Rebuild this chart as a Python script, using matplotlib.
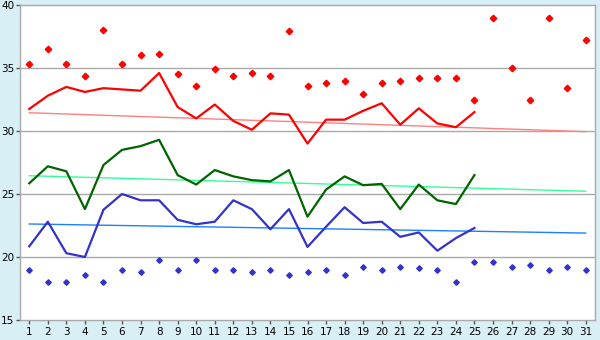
import matplotlib
matplotlib.use("Agg")
import matplotlib.pyplot as plt
import numpy as np

days = list(range(1, 32))
obs_days = list(range(1, 26))

max_points = [35.3, 36.5, 35.3, 34.4, 38.0, 35.3, 36.0, 36.1, 34.5, 33.6,
              34.9, 34.4, 34.6, 34.4, 37.9, 33.6, 33.8, 34.0, 32.9, 33.8,
              34.0, 34.2, 34.2, 34.2, 32.5, 39.0, 35.0, 32.5, 39.0, 33.4, 37.2]
min_points = [19.0, 18.0, 18.0, 18.6, 18.0, 19.0, 18.8, 19.8, 19.0, 19.8,
              19.0, 19.0, 18.8, 19.0, 18.6, 18.8, 19.0, 18.6, 19.2, 19.0,
              19.2, 19.1, 19.0, 18.0, 19.6, 19.6, 19.2, 19.4, 19.0, 19.2, 19.0]

max_line = [31.75, 32.8, 33.5, 33.1, 33.4, 33.3, 33.2, 34.6, 31.9, 31.0,
            32.1, 30.8, 30.1, 31.4, 31.3, 29.0, 30.9, 30.9, 31.6, 32.2,
            30.5, 31.8, 30.6, 30.3, 31.5]
avg_line = [25.85, 27.2, 26.8, 23.8, 27.3, 28.5, 28.8, 29.3, 26.5, 25.75,
            26.9, 26.4, 26.1, 26.0, 26.9, 23.2, 25.35, 26.4, 25.7, 25.8,
            23.8, 25.75, 24.5, 24.2, 26.5]
min_line = [20.85, 22.8, 20.3, 20.0, 23.75, 25.0, 24.5, 24.5, 22.95, 22.6,
            22.8, 24.5, 23.8, 22.2, 23.8, 20.8, 22.4, 23.95, 22.7, 22.8,
            21.6, 21.95, 20.5, 21.5, 22.3]

trend_days = [1, 31]
max_trend = [31.45, 29.95]
avg_trend = [26.45, 25.22]
min_trend = [22.62, 21.9]

bg = "#d9eff6"
grid_c = "#a9a9a9"

fig = plt.figure(figsize=(6, 3.4), dpi=100, facecolor=bg)
ax = fig.add_axes([20/600, 20/340, 575/600, 315/340])
ax.set_facecolor("white")

for yv in [20, 25, 30, 35]:
    ax.axhline(yv, color=grid_c, lw=1.0, zorder=0)

ax.plot(trend_days, max_trend, color="#ff8080", lw=1.0, zorder=1)
ax.plot(trend_days, avg_trend, color="#33ff99", lw=1.0, zorder=1)
ax.plot(trend_days, min_trend, color="#1a80ff", lw=1.0, zorder=1)

ax.plot(obs_days, max_line, color="#ff0000", lw=1.6, zorder=3)
ax.plot(obs_days, avg_line, color="#006400", lw=1.6, zorder=3)
ax.plot(obs_days, min_line, color="#3333cc", lw=1.6, zorder=3)

ax.plot(days, max_points, ls="none", marker="D", ms=3.3, color="#ff0000", zorder=4)
ax.plot(days, min_points, ls="none", marker="D", ms=2.8, color="#3333cc", zorder=4)

ax.set_xlim(0.5, 31.5)
ax.set_ylim(15, 40)
ax.set_xticks(days)
ax.set_xticklabels([str(d) for d in days])
ax.set_yticks([15, 20, 25, 30, 35, 40])
for s in ax.spines.values():
    s.set_color(grid_c)
    s.set_linewidth(1.0)
ax.tick_params(axis="both", colors="#555555", labelcolor="black", labelsize=7.5,
               length=3, width=1, pad=1)
ax.tick_params(axis="x", pad=2)

fig.savefig("out.png", dpi=100, facecolor=bg)
